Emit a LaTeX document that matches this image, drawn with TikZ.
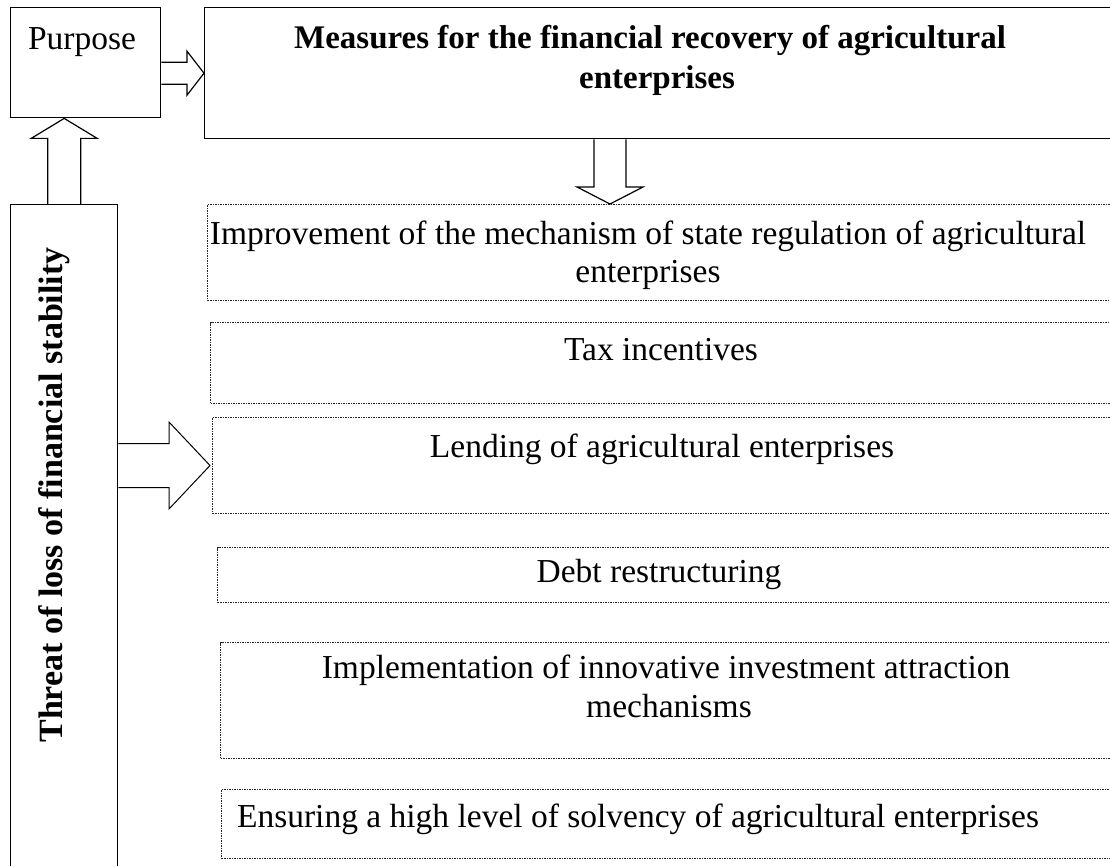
\documentclass[tikz,border=0pt]{standalone}
\usepackage{fontspec}
\setmainfont{Liberation Serif}
\usetikzlibrary{calc}
\begin{document}
\begin{tikzpicture}[x=1pt,y=-1pt,
  solidbox/.style={draw, line width=1.4pt, inner sep=0pt, anchor=north west},
  dotbox/.style={draw=black!85, line width=1pt, dash pattern=on 1.5pt off 1pt, inner sep=0pt, anchor=north west},
  blockarrow/.style={draw, line width=1.2pt, fill=white, line join=miter},
  txt/.style={anchor=base, inner sep=0pt, font=\fontsize{33.5}{38}\selectfont},
  btxt/.style={anchor=base, inner sep=0pt, font=\fontsize{33}{38}\selectfont\bfseries}]
\useasboundingbox (0,0) rectangle (1110,866);
\clip (0,0) rectangle (1110,866);
% boxes
\node[solidbox, minimum width=150pt, minimum height=110pt] (purpose) at (10,7) {};
\node[solidbox, minimum width=921pt, minimum height=131pt] (measures) at (204,7) {};
\node[solidbox, minimum width=107pt, minimum height=680pt] (threat) at (10,204) {};
\node[dotbox, minimum width=918pt, minimum height=96pt] (b1) at (207,204) {};
\node[dotbox, minimum width=915pt, minimum height=81pt] (b2) at (210,322) {};
\node[dotbox, minimum width=913pt, minimum height=96pt] (b3) at (212,417) {};
\node[dotbox, minimum width=908pt, minimum height=55pt] (b4) at (217,547) {};
\node[dotbox, minimum width=905pt, minimum height=116pt] (b5) at (220,642) {};
\node[dotbox, minimum width=904pt, minimum height=69pt] (b6) at (221,789) {};
% texts
\node[txt] (tpurpose) at (82,50) {Purpose};
\node[btxt] (tmeas1) at (650,49) {Measures for the financial recovery of agricultural};
\node[btxt] (tmeas2) at (657,89) {enterprises};
\node[btxt, rotate=90, font=\fontsize{34}{38}\selectfont\bfseries] (tthreat) at (62,495) {Threat of loss of financial stability};
\node[txt] (t1a) at (648,245) {Improvement of the mechanism of state regulation of agricultural};
\node[txt] (t1b) at (648,283) {enterprises};
\node[txt] (t2) at (661,360) {Tax incentives};
\node[txt] (t3) at (662,457) {Lending of agricultural enterprises};
\node[txt] (t4) at (659,582) {Debt restructuring};
\node[txt] (t5a) at (666,678) {Implementation of innovative investment attraction};
\node[txt] (t5b) at (669,717) {mechanisms};
\node[txt] (t6) at (638,827) {Ensuring a high level of solvency of agricultural enterprises};
% block arrows
% purpose -> measures
\coordinate (a1s) at (purpose.east |- measures.west);
\draw[blockarrow] ($(a1s)+(0,-11)$) -- ($(measures.west)+(-17,-11)$) -- ($(measures.west)+(-17,-22)$)
  -- (measures.west) -- ($(measures.west)+(-17,22)$) -- ($(measures.west)+(-17,11)$) -- ($(a1s)+(0,11)$);
% measures -> b1
\coordinate (a2t) at ($(b1.north west)+(403,0)$);
\coordinate (a2s) at (a2t |- measures.south);
\draw[blockarrow] ($(a2s)+(-16,0)$) -- ($(a2t)+(-16,-17)$) -- ($(a2t)+(-33,-17)$)
  -- (a2t) -- ($(a2t)+(33,-17)$) -- ($(a2t)+(16,-17)$) -- ($(a2s)+(16,0)$);
% threat -> purpose
\coordinate (a3t) at (threat.north |- purpose.south);
\draw[blockarrow] ($(threat.north)+(-16.5,0)$) -- ($(a3t)+(-16.5,20)$) -- ($(a3t)+(-33,20)$)
  -- (a3t) -- ($(a3t)+(33,20)$) -- ($(a3t)+(16.5,20)$) -- ($(threat.north)+(16.5,0)$);
% threat -> b3
\coordinate (a4s) at (threat.east |- b3.west);
\draw[blockarrow, line width=1pt] ($(a4s)+(0,-22)$) -- ($(b3.west)+(-43,-22)$) -- ($(b3.west)+(-43,-43.5)$)
  -- ($(b3.west)+(-2,0)$) -- ($(b3.west)+(-43,43.5)$) -- ($(b3.west)+(-43,22)$) -- ($(a4s)+(0,22)$);
\end{tikzpicture}
\end{document}
